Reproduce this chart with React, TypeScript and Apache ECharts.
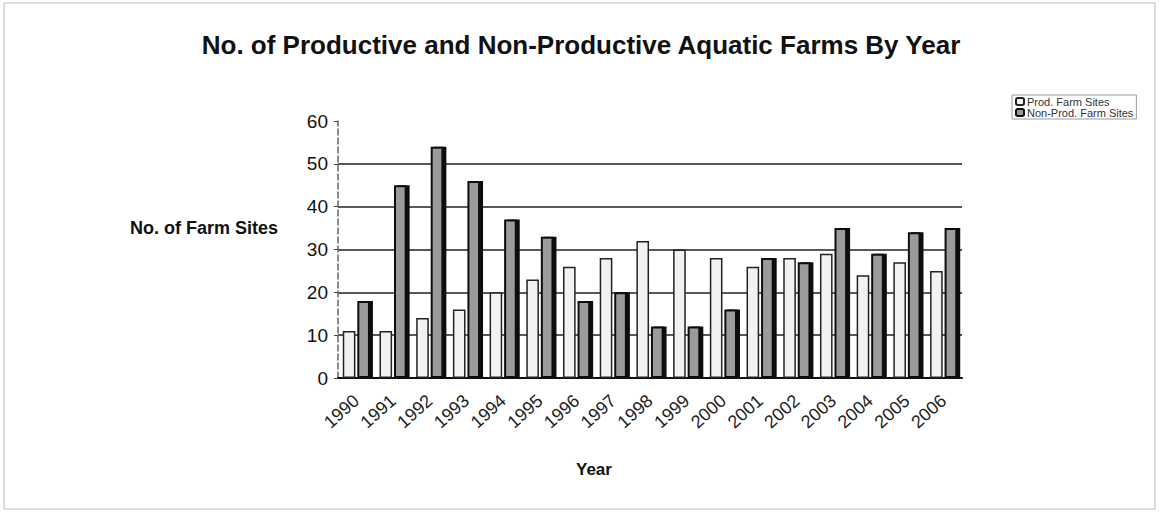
import React, { useEffect, useRef } from "react";
import * as echarts from "echarts";

const years = ["1990","1991","1992","1993","1994","1995","1996","1997","1998","1999","2000","2001","2002","2003","2004","2005","2006"];
const prodSites = [11, 11, 14, 16, 20, 23, 26, 28, 32, 30, 28, 26, 28, 29, 24, 27, 25];
const nonProdSites = [18, 45, 54, 46, 37, 33, 18, 20, 12, 12, 16, 28, 27, 35, 29, 34, 35];
const seriesNames = ["Prod. Farm Sites", "Non-Prod. Farm Sites"];
const titleText = "No. of Productive and Non-Productive Aquatic Farms By Year";

export default function App() {
  const ref = useRef<HTMLDivElement>(null);
  useEffect(() => {
    if (!ref.current) return;
    const chart = echarts.init(ref.current, null, { renderer: "svg" });
    chart.setOption({
      animation: false,
      backgroundColor: "#ffffff",
      textStyle: { fontFamily: "Liberation Sans, Arial, sans-serif" },
      title: {
        text: titleText,
        left: 576,
        top: 27,
        textAlign: "center",
        textStyle: { fontSize: 26, fontWeight: "bold", color: "#111", fontFamily: "Liberation Sans, Arial, sans-serif" },
      },
      legend: {
        data: seriesNames,
        orient: "vertical",
        left: 1012,
        top: 95,
        itemWidth: 8,
        itemHeight: 7,
        itemGap: 0,
        padding: [1, 3, 1, 3],
        borderColor: "#999",
        borderWidth: 1,
        textStyle: { fontSize: 11, color: "#333", padding: [0, 0, 0, -2] },
      },
      grid: { left: 338, right: 197, top: 121, bottom: 135, containLabel: false },
      xAxis: {
        type: "category",
        data: years,
        axisLine: { show: true, lineStyle: { color: "#111", width: 2 } },
        axisTick: { show: false },
        axisLabel: { rotate: 42, fontSize: 18, color: "#222", margin: 20, interval: 0 },
      },
      yAxis: {
        type: "value",
        min: 0,
        max: 60,
        interval: 10,
        axisLine: { show: true, lineStyle: { color: "#666", width: 1.5, type: "dashed" } },
        axisTick: { show: true, length: 4, lineStyle: { color: "#444" } },
        axisLabel: { fontSize: 19, color: "#111", margin: 10 },
        splitLine: { show: true, showMaxLine: false, lineStyle: { color: "#222", width: 1.5 } },
      },
      graphic: [
        {
          type: "rect",
          shape: { x: 4, y: 3, width: 1151, height: 506 },
          style: { fill: "none", stroke: "#bbb", lineWidth: 1 },
          silent: true,
        },
        {
          type: "text",
          left: 130,
          top: 219,
          style: { text: "No. of Farm Sites", font: "bold 18px Liberation Sans, Arial, sans-serif", fill: "#111" },
        },
        {
          type: "text",
          left: 576,
          top: 461,
          style: { text: "Year", font: "bold 17px Liberation Sans, Arial, sans-serif", fill: "#111" },
        },
      ],
      series: [
        {
          name: seriesNames[0],
          type: "bar",
          data: prodSites,
          barGap: "15%",
          barCategoryGap: "26%",
          itemStyle: { color: "#f2f2f2", borderColor: "#222", borderWidth: 1.5 },
        },
        {
          name: seriesNames[1],
          type: "bar",
          data: nonProdSites,
          itemStyle: { color: "#9b9b9b", borderColor: "#111", borderWidth: 2, shadowColor: "#111", shadowOffsetX: 3, shadowBlur: 0 },
        },
      ],
    });
    return () => chart.dispose();
  }, []);
  return <div ref={ref} style={{ position: "fixed", left: 0, top: 0, width: 1159, height: 513 }} />;
}
